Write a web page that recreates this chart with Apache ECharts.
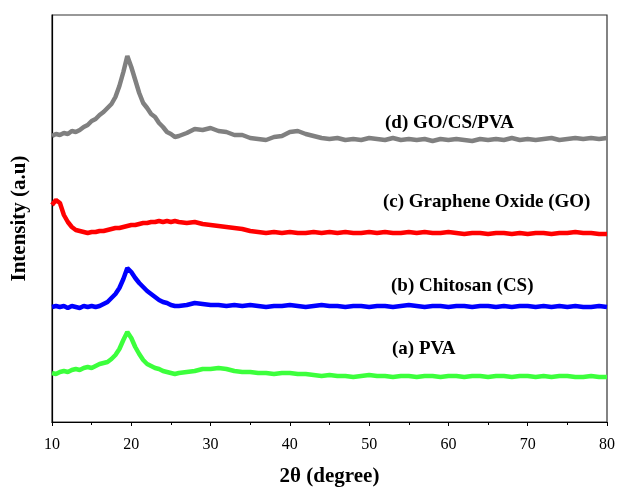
<!DOCTYPE html>
<html>
<head>
<meta charset="utf-8">
<script src="https://cdn.jsdelivr.net/npm/echarts@6/dist/echarts.min.js"></script>
<style>
  html, body { margin: 0; padding: 0; background: #fff; }
  #chart { width: 617px; height: 487px; }
</style>
</head>
<body>
<div id="chart"></div>
<script>
// 2-theta positions (degree)
const twoTheta = [
  10, 10.5, 11, 11.5, 12, 12.5, 13, 13.5, 14, 14.5, 15, 15.5, 16, 16.5, 17, 17.5,
  18, 18.5, 19, 19.5, 20, 20.5, 21, 21.5, 22, 22.5, 23, 23.5, 24, 24.5, 25, 25.5, 26,
  27, 28, 29, 30, 31, 32, 33, 34, 35, 36, 37, 38, 39, 40, 41, 42, 43, 44, 45, 46, 47,
  48, 49, 50, 51, 52, 53, 54, 55, 56, 57, 58, 59, 60, 61, 62, 63, 64, 65, 66, 67, 68,
  69, 70, 71, 72, 73, 74, 75, 76, 77, 78, 79, 80
];

// intensities (a.u., stacked offsets already included)
const pva = [
  49, 48, 50, 51, 50, 52, 53, 52, 54, 55, 54, 56, 58, 59, 60, 63,
  67, 73, 82, 90, 84, 75, 68, 62, 58, 56, 54, 53, 51, 50, 49, 48, 49,
  50, 51, 53, 53, 54, 53, 51, 50, 50, 49, 49, 48, 49, 49, 48, 48, 47, 46, 47, 46, 46,
  45, 46, 47, 46, 46, 45, 46, 46, 45, 46, 46, 45, 46, 46, 45, 46, 46, 45, 46, 46, 45,
  46, 46, 45, 46, 45, 46, 46, 45, 45, 46, 45, 45
];
const chitosan = [
  115, 116, 115, 116, 114, 116, 115, 114, 116, 115, 116, 115, 116, 118, 120, 124,
  128, 134, 143, 154, 150, 144, 139, 135, 131, 128, 125, 122, 120, 119, 117, 116, 116,
  117, 119, 118, 117, 117, 116, 117, 116, 117, 116, 115, 116, 116, 117, 116, 115, 116, 117, 116, 116, 115,
  116, 116, 115, 116, 116, 115, 116, 117, 116, 115, 116, 116, 115, 116, 116, 115, 116, 116, 115, 116, 115,
  116, 116, 115, 116, 115, 116, 115, 116, 115, 115, 116, 115
];
const grapheneOxide = [
  217, 222, 219, 207, 200, 195, 192, 191, 190, 189, 190, 190, 191, 191, 192, 193,
  194, 194, 195, 196, 197, 197, 198, 199, 199, 200, 200, 201, 200, 201, 200, 201, 200,
  199, 200, 198, 197, 196, 195, 194, 193, 191, 190, 189, 190, 189, 190, 189, 189, 190, 189, 190, 189, 190,
  189, 189, 190, 189, 190, 189, 189, 190, 189, 190, 189, 189, 190, 189, 188, 189, 189, 188, 189, 189, 188,
  189, 188, 189, 189, 188, 189, 189, 190, 189, 189, 188, 188
];
const goCsPva = [
  286, 288, 287, 289, 288, 291, 290, 292, 295, 297, 301, 303, 307, 310, 314, 318,
  325, 336, 350, 366, 355, 342, 329, 319, 314, 308, 305, 299, 295, 290, 288, 285, 286,
  289, 293, 292, 294, 291, 290, 287, 287, 284, 283, 282, 285, 286, 290, 291, 288, 286, 284, 283, 284, 282,
  283, 282, 284, 283, 282, 284, 282, 283, 282, 283, 281, 283, 282, 283, 282, 281, 283, 282, 283, 282, 284,
  282, 283, 282, 283, 284, 282, 283, 284, 283, 284, 283, 284
];

const seriesNames = ['(a) PVA', '(b) Chitosan (CS)', '(c) Graphene Oxide (GO)', '(d) GO/CS/PVA'];
const seriesColors = ['#3cff3c', '#0000ff', '#ff0000', '#808080'];
const seriesValues = [pva, chitosan, grapheneOxide, goCsPva];

const pair = (ys) => twoTheta.map((x, i) => [x, ys[i]]);

const chart = echarts.init(document.getElementById('chart'));
const font = '"Liberation Serif", "Times New Roman", serif';

const label = (text, left, cy) => ({
  type: 'text', left: left, top: cy - 10,
  style: { text: text, font: 'bold 19px ' + font, fill: '#000' }
});

const option = {
  animation: false,
  grid: {
    left: 52, right: 10, top: 15, bottom: 65,
    outerBoundsMode: 'none',
    containLabel: false,
    show: true, borderColor: '#333', borderWidth: 1.2
  },
  xAxis: {
    type: 'value',
    min: 10, max: 80, interval: 10,
    name: '2θ (degree)',
    nameLocation: 'middle',
    nameGap: 44,
    nameTextStyle: { fontFamily: font, fontWeight: 'bold', fontSize: 21, color: '#000' },
    axisLine: { show: true, lineStyle: { color: '#000', width: 1.2 } },
    axisTick: { show: true, length: 4, lineStyle: { color: '#000' } },
    minorTick: { show: true, splitNumber: 2, length: 3, lineStyle: { color: '#000' } },
    axisLabel: { fontFamily: font, fontSize: 16, color: '#000', margin: 15 },
    splitLine: { show: false }
  },
  yAxis: {
    type: 'value',
    min: 0, max: 407,
    name: 'Intensity (a.u)',
    nameLocation: 'middle',
    nameGap: 22,
    nameTextStyle: { fontFamily: font, fontWeight: 'bold', fontSize: 21, color: '#000' },
    axisLine: { show: true, lineStyle: { color: '#000', width: 1.2 } },
    axisTick: { show: false },
    axisLabel: { show: false },
    splitLine: { show: false }
  },
  series: seriesValues.map((ys, i) => ({
    name: seriesNames[i],
    type: 'line',
    data: pair(ys),
    showSymbol: false,
    lineStyle: { color: seriesColors[i], width: 4.5 },
    itemStyle: { color: seriesColors[i] }
  })),
  graphic: [
    label(seriesNames[3], 385, 124),
    label(seriesNames[2], 383, 203),
    label(seriesNames[1], 391, 287),
    label(seriesNames[0], 392, 350)
  ]
};

chart.setOption(option);
</script>
</body>
</html>
